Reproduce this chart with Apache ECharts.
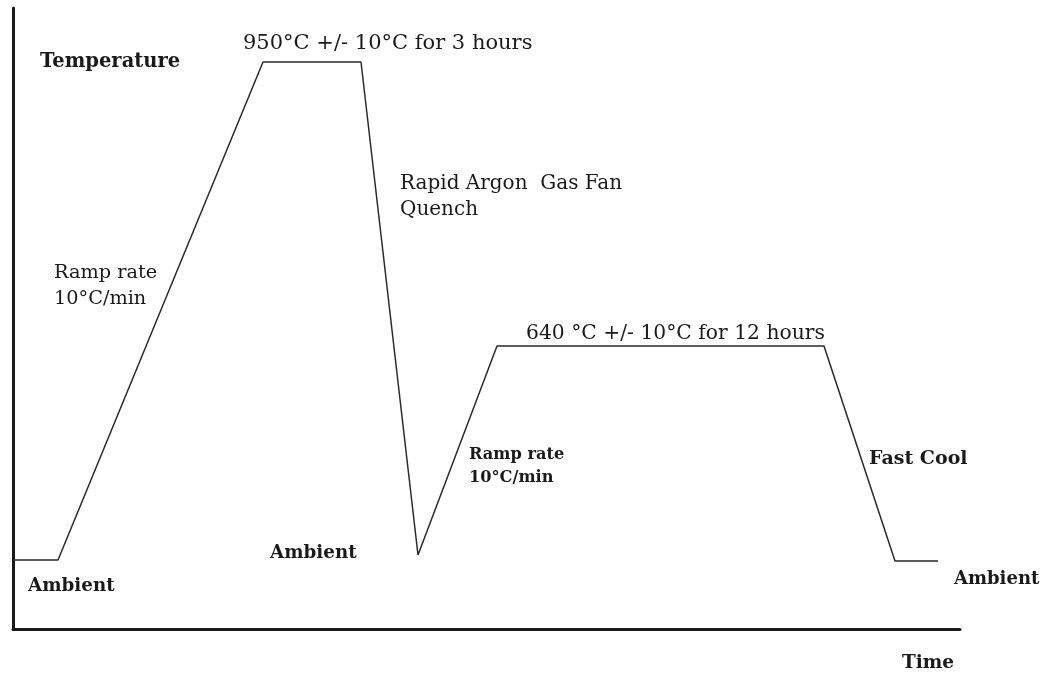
<!DOCTYPE html>
<html>
<head>
<meta charset="utf-8">
<script src="https://cdn.jsdelivr.net/npm/echarts@6/dist/echarts.min.js"></script>
<style>
  html, body { margin: 0; padding: 0; background: #fff; }
  #chart { width: 1046px; height: 675px; }
</style>
</head>
<body>
<div id="chart"></div>
<script>
// schematic heat treatment cycle (arbitrary units)
const timePts = [0, 45, 250, 348, 405, 484, 811, 882, 925];
const tempPts = [69, 69, 567, 567, 74, 283, 283, 68, 68];

const labelTexts = {
    yName: 'Temperature',
    xName: 'Time',
    hold1: '950°C +/- 10°C for 3 hours',
    quench: 'Rapid Argon  Gas Fan\nQuench',
    ramp1: 'Ramp rate\n10°C/min',
    hold2: '640 °C +/- 10°C for 12 hours',
    ramp2: 'Ramp rate\n10°C/min',
    cool: 'Fast Cool',
    ambient: 'Ambient'
};

let lineData = timePts.map(function(t, i){ return [t, tempPts[i]]; });

let serif = '"DejaVu Serif", "Liberation Serif", serif';
// cy = centre of the first line
function txt(x, cy, text, size, bold, lh) {
    lh = lh || Math.round(size * 1.3);
    return {
        type: 'text', left: x, top: Math.round(cy - lh / 2),
        style: {
            text: text, fill: '#1a1a1a',
            font: (bold ? 'bold ' : '') + size + 'px ' + serif,
            lineHeight: lh
        }
    };
}

let myChart = echarts.init(document.getElementById('chart'), null, {renderer: 'canvas'});
let option = {
    backgroundColor: '#fff',
    animation: false,
    grid: { left: 13, right: 86, top: 8, bottom: 46 },
    xAxis: {
        type: 'value', min: 0, max: 947,
        axisLine: { show: true, lineStyle: { color: '#1a1a1a', width: 3 } },
        axisTick: { show: false }, axisLabel: { show: false }, splitLine: { show: false }
    },
    yAxis: {
        type: 'value', min: 0, max: 621,
        axisLine: { show: true, lineStyle: { color: '#1a1a1a', width: 3 } },
        axisTick: { show: false }, axisLabel: { show: false }, splitLine: { show: false }
    },
    series: [{
        type: 'line',
        data: lineData,
        symbol: 'none',
        lineStyle: { color: '#2a2a2a', width: 1.5 }
    }],
    graphic: [
        txt(40, 61, labelTexts.yName, 19.5, true),
        txt(902, 663, labelTexts.xName, 18.5, true),
        txt(243, 43, labelTexts.hold1, 21, false),
        txt(400, 184, labelTexts.quench, 20, false, 26),
        txt(54, 273, labelTexts.ramp1, 19.3, false, 26),
        txt(526, 334, labelTexts.hold2, 20.3, false),
        txt(469, 454, labelTexts.ramp2, 16.2, true, 23),
        txt(869, 459, labelTexts.cool, 19, true),
        txt(28, 586, labelTexts.ambient, 18.3, true),
        txt(270, 553, labelTexts.ambient, 18.3, true),
        txt(954, 579, labelTexts.ambient, 18, true)
    ]
};
myChart.setOption(option);
</script>
</body>
</html>
